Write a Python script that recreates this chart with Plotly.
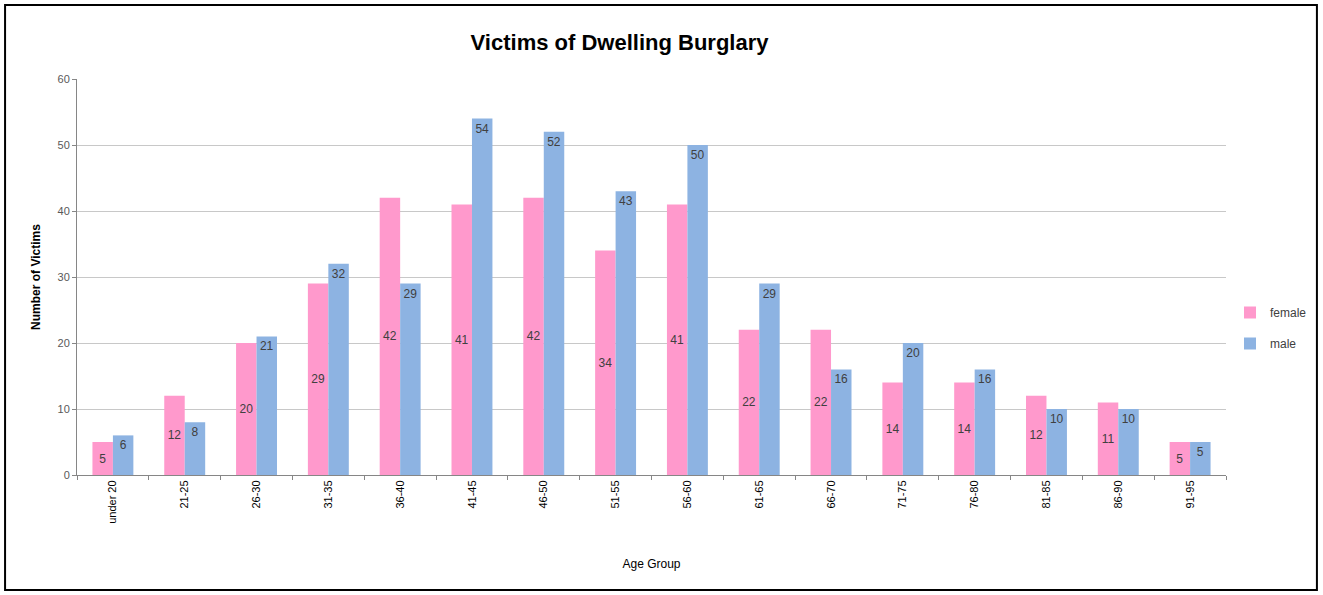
import plotly.graph_objects as go

age_groups = ["under 20", "21-25", "26-30", "31-35", "36-40", "41-45", "46-50", "51-55",
              "56-60", "61-65", "66-70", "71-75", "76-80", "81-85", "86-90", "91-95"]
female = [5, 12, 20, 29, 42, 41, 42, 34, 41, 22, 22, 14, 14, 12, 11, 5]
male = [6, 8, 21, 32, 29, 54, 52, 43, 50, 29, 16, 20, 16, 10, 10, 5]

FONT = "Liberation Sans"
fig = go.Figure()
fig.add_trace(go.Bar(
    x=age_groups, y=female, name="female", marker_color="#FF99CC", marker_line_width=0,
    text=female, textposition="inside", insidetextanchor="middle",
    textfont=dict(family=FONT, size=12, color="#404040"), legendgroup="f",
))
fig.add_trace(go.Bar(
    x=age_groups, y=male, name="male", marker_color="#8DB3E2", marker_line_width=0,
    text=male, textposition="inside", insidetextanchor="end",
    textfont=dict(family=FONT, size=12, color="#404040"), legendgroup="m",
))

L, R, T, B = 77, 96, 79, 120
W, H = 1323, 595
pw, ph = W - L - R, H - T - B

fig.update_layout(
    width=W, height=H,
    margin=dict(l=L, r=R, t=T, b=B),
    paper_bgcolor="white", plot_bgcolor="white",
    barmode="group", bargap=0.43, bargroupgap=0,
    title=dict(text="<b>Victims of Dwelling Burglary</b>", x=(620 - L) / pw, xref="paper",
               xanchor="center", y=1 - 42 / H, yanchor="middle",
               font=dict(family=FONT, size=22, color="#000000")),
    font=dict(family=FONT, color="#404040"),
    uniformtext=dict(minsize=8, mode="show"),
    legend=dict(x=(1230 - L) / pw, y=(475 - 328) / ph, xanchor="left", yanchor="middle",
                font=dict(family=FONT, size=12, color="#404040"), tracegroupgap=12,
                itemwidth=30, bgcolor="rgba(0,0,0,0)"),
    xaxis=dict(
        title=dict(text="Age Group", font=dict(family=FONT, size=12, color="#000000"), standoff=36),
        tickangle=-90, tickfont=dict(family=FONT, size=11, color="#000000"),
        showline=True, linecolor="#868686", linewidth=1,
        ticks="outside", tickson="boundaries", ticklen=4, tickcolor="#868686",
        showgrid=False,
    ),
    yaxis=dict(
        title=dict(text="<b>Number of Victims</b>", font=dict(family=FONT, size=12, color="#000000"), standoff=14),
        range=[0, 60], dtick=10, tickfont=dict(family=FONT, size=11, color="#595959"),
        showline=True, linecolor="#868686", linewidth=1,
        ticks="outside", ticklen=4, tickcolor="#868686",
        showgrid=True, gridcolor="#C8C8C8", gridwidth=1, zeroline=False,
    ),
)

fig.add_shape(type="rect", xref="paper", yref="paper",
              x0=(5 - L) / pw, x1=(1318 - L) / pw,
              y0=(H - B - 590) / ph, y1=(H - B - 5) / ph,
              line=dict(color="#000000", width=2), fillcolor="rgba(0,0,0,0)", layer="above")

fig.write_html("out.html", config={"displayModeBar": False},
               post_script="document.body.style.margin='0';document.body.style.overflow='hidden';")
